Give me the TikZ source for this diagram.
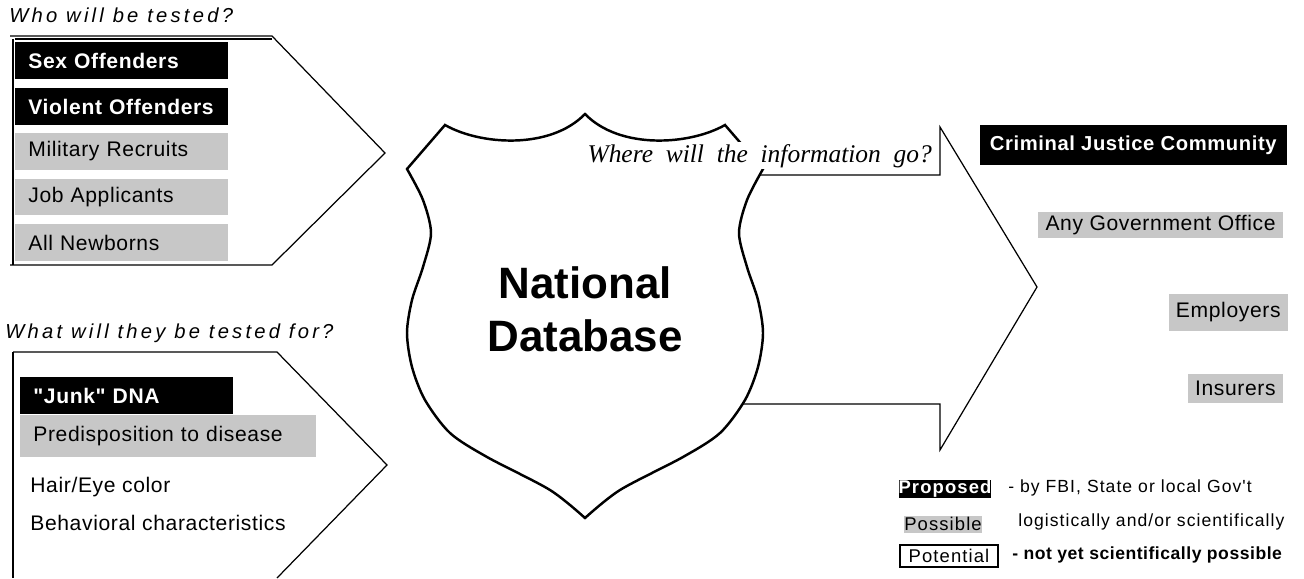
\documentclass[tikz,border=0pt]{standalone}
\usepackage{fontspec}
\setmainfont{Liberation Sans}
\newfontfamily\listfont{Liberation Sans}[LetterSpace=3]
\newfontfamily\headfont{Liberation Sans}[LetterSpace=16]
\newfontfamily\legfont{Liberation Sans}[LetterSpace=6]
\newfontfamily\askfont{Liberation Serif}[WordSpace=2]
\usepackage{tikz}

\tikzset{
  outline/.style={line width=0.7pt, line join=miter},
  heading/.style={anchor=base west, inner sep=0pt,
    font=\headfont\itshape\fontsize{11.5}{13}\selectfont},
  darkbox/.style={fill=black, text=white, anchor=west, align=left,
    text width=3.74cm, inner xsep=0.26cm, inner ysep=0pt, minimum height=0.74cm,
    font=\listfont\bfseries\fontsize{12}{14}\selectfont},
  greybox/.style={darkbox, fill=black!22, text=black,
    font=\listfont\fontsize{12}{14}\selectfont},
  itemtext/.style={anchor=west, inner sep=0pt,
    font=\listfont\fontsize{12}{14}\selectfont},
  destdark/.style={fill=black, text=white, anchor=east, inner xsep=0.2cm,
    inner ysep=0pt, minimum height=0.82cm,
    font=\listfont\bfseries\fontsize{11.5}{13}\selectfont},
  destgrey/.style={fill=black!22, text=black, anchor=east, inner xsep=4pt,
    inner ysep=1pt, minimum height=0.52cm,
    font=\listfont\fontsize{12}{14}\selectfont},
  legkey/.style={inner sep=0pt, minimum height=0.36cm,
    font=\legfont\fontsize{10}{12}\selectfont},
  legtext/.style={anchor=west, inner sep=0pt,
    font=\legfont\fontsize{10}{12}\selectfont},
}

\begin{document}
\begin{tikzpicture}[x=0.02cm, y=-0.02cm]

    \useasboundingbox (0,0) rectangle (1304,578);

    % who will be tested
    \node[heading] (who) at (9,22) {Who will be tested?};
    \draw[outline] (10,36) -- (272,36) -- (385,153) -- (272,265) -- (10,265);
    \draw[outline] (15,39) -- (272,39);
    \draw[line width=1.1pt] (13,39) -- (13,265);

    \node[darkbox] (sex) at (15,60.5) {Sex Offenders};
    \node[darkbox] (violent) at (15,106.5) {Violent Offenders};
    \node[greybox] (military) at (15,151.5) {Military Recruits};
    \node[greybox] (job) at (15,197) {Job Applicants};
    \node[greybox] (newborn) at (15,242.5) {All Newborns};

    % what will they be tested for
    \node[heading] (what) at (5,338) {What will they be tested for?};
    \draw[outline] (13,352) -- (277,352) -- (387,465) -- (277,578);
    \draw[line width=1.3pt] (13,352) -- (13,578);

    \node[darkbox] (junk) at (20,395.5) {"Junk" DNA};
    \node[greybox, text width=5.4cm, minimum height=0.84cm] (predis) at (20,436) {Predisposition to disease};
    \node[itemtext] (hair) at (30,487) {Hair/Eye color};
    \node[itemtext] (behav) at (30,523) {Behavioral characteristics};

    % arrow to the right
    \draw[outline] (700,175) -- (940,175) -- (940,127) -- (1037,287)
      -- (940,450) -- (940,404) -- (700,404);

    % shield
    \draw[line width=1.4pt, fill=white, line join=miter]
      (407,169) -- (445,125)
      .. controls (480,145) and (550,150) .. (585,114)
      .. controls (620,150) and (690,145) .. (725,125)
      -- (763,169)
      -- plot[smooth] coordinates {(763,169) (747,200) (739,233) (747,267)
        (758,300) (763,333) (758,367) (745,400) (720,433) (683,457)
        (620,490) (585,518)}
      -- plot[smooth] coordinates {(585,518) (550,490) (487,457) (450,433)
        (425,400) (412,367) (407,333) (412,300) (423,267) (431,233)
        (423,200) (407,169)}
      -- cycle;

    \node[font=\bfseries\fontsize{25}{30}\selectfont, align=center] (ndb) at (585,309) {National\\Database};

    \node[anchor=base east, fill=white, inner sep=1pt,
      font=\askfont\itshape\fontsize{14.5}{16}\selectfont] (where) at (934,162)
      {Where will the information go?};

    % where it goes
    \node[destdark] (crim) at (1287,145) {Criminal Justice Community};
    \node[destgrey] (gov) at (1283,225) {Any Government Office};
    \node[destgrey, minimum height=0.74cm] (employ) at (1288,312) {Employers};
    \node[destgrey, minimum height=0.58cm] (insur) at (1283,388) {Insurers};

    % legend
    \node[legkey, fill=black, text=white, minimum width=1.8cm,
      font=\legfont\bfseries\fontsize{10.5}{12}\selectfont] (prop) at (945,489) {Proposed};
    \node[legtext] (proptext) at (1008,488) {- by FBI, State or local Gov't};
    \node[legkey, fill=black!22, minimum width=1.44cm, minimum height=0.34cm,
      font=\legfont\fontsize{10.5}{12}\selectfont] (poss) at (943,524) {Possible};
    \node[legtext] (posstext) at (1018,522) {logistically and/or scientifically};
    \node[legkey, draw, outline, minimum width=1.96cm, minimum height=0.44cm,
      font=\legfont\fontsize{10.5}{12}\selectfont] (pot) at (949,556) {Potential};
    \node[legtext, font=\listfont\bfseries\fontsize{10}{12}\selectfont] (pottext) at (1012,555) {- not yet scientifically possible};

\end{tikzpicture}
\end{document}
